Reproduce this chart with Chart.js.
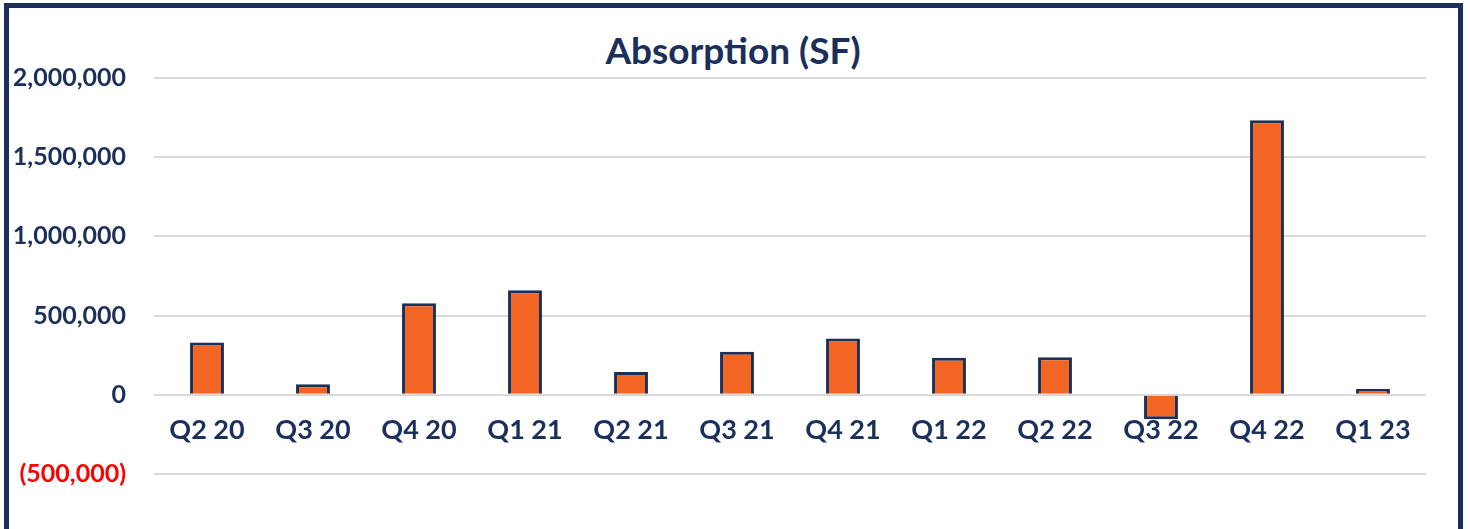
<!DOCTYPE html>
<html>
<head>
<meta charset="utf-8">
<title>Absorption (SF)</title>
<script src="https://cdn.jsdelivr.net/npm/chart.js@4/dist/chart.umd.min.js"></script>
<style>
  html, body { margin:0; padding:0; background:#fff; }
  body { width:1470px; height:529px; position:relative; overflow:hidden; }
  .frame { position:absolute; left:4px; top:3px; width:1449px; height:600px; border:5px solid #1b2f5b; }
  .wrap { position:absolute; left:0; top:0; width:1470px; height:529px; }
  .title { position:absolute; left:0; width:1466px; top:28px; text-align:center; font:bold 37px Lato, sans-serif; line-height:44px; color:#1b2f5b; }
</style>
</head>
<body>
<div class="frame"></div>
<div class="title">Absorption (SF)</div>
<div class="wrap"><canvas id="chartAbsorption"></canvas></div>
<script>
// quarters and net absorption (SF)
const quarters = ['Q2 20','Q3 20','Q4 20','Q1 21','Q2 21','Q3 21','Q4 21','Q1 22','Q2 22','Q3 22','Q4 22','Q1 23'];
const absorption = [330000, 66000, 578000, 660000, 144000, 272000, 356000, 234000, 237000, -154000, 1734000, 36000];
const yTicks = [-500000, 0, 500000, 1000000, 1500000, 2000000];

const NAVY = '#1b2f5b';
const ORANGE = '#f26522';

function fmt(v) {
  const s = Math.abs(v).toLocaleString('en-US');
  return v < 0 ? '(' + s + ')' : s;
}

new Chart(document.getElementById('chartAbsorption'), {
  type: 'bar',
  data: {
    labels: quarters,
    datasets: [{
      label: 'Absorption (SF)',
      data: absorption,
      backgroundColor: ORANGE,
      borderColor: NAVY,
      borderWidth: 3,
      barPercentage: 0.32,
      categoryPercentage: 1
    }]
  },
  options: {
    responsive: true, maintainAspectRatio: false, animation: false,
    layout: { padding: { left: 14, right: 44, top: 78, bottom: 55 } },
    plugins: {
      legend: { display: false },
      tooltip: { enabled: false },
      title: { display: false }
    },
    scales: {
      x: {
        position: { y: 0 },
        grid: { display: false },
        border: { display: false },
        ticks: { color: NAVY, padding: 11, font: { family: 'Lato', size: 27, weight: 'bold' } }
      },
      y: {
        min: yTicks[0], max: yTicks[yTicks.length - 1],
        afterBuildTicks: axis => { axis.ticks = yTicks.map(v => ({ value: v })); },
        afterFit: axis => { axis.width = 140; },
        grid: { color: '#d9d9d9', lineWidth: 2, drawTicks: false },
        border: { display: false },
        ticks: {
          padding: 28,
          font: { family: 'Lato', size: 25, weight: 'bold' },
          color: ctx => ctx.tick.value < 0 ? '#ff0000' : NAVY,
          callback: v => fmt(v)
        }
      }
    }
  }
});
</script>
</body>
</html>
